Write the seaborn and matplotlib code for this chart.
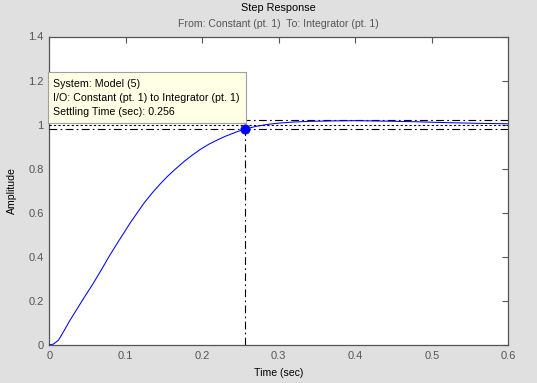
import matplotlib
matplotlib.use("Agg")
import pandas as pd
import seaborn as sns
import matplotlib.pyplot as plt
from matplotlib.patches import Rectangle

# step response
time_s = [0.0, 0.0056, 0.012, 0.0185, 0.027, 0.0356, 0.046, 0.057, 0.068, 0.0785,
          0.090, 0.105, 0.115, 0.124, 0.135, 0.145, 0.155, 0.166, 0.177, 0.187,
          0.198, 0.209, 0.220, 0.230, 0.244, 0.256, 0.270, 0.285, 0.300, 0.320,
          0.340, 0.370, 0.400, 0.440, 0.480, 0.520, 0.560, 0.600]
amplitude = [0.0, 0.0045, 0.022, 0.060, 0.112, 0.160, 0.218, 0.277, 0.341, 0.404,
             0.468, 0.550, 0.600, 0.645, 0.692, 0.731, 0.767, 0.802, 0.835, 0.862,
             0.889, 0.912, 0.931, 0.947, 0.966, 0.980, 0.992, 1.001, 1.007, 1.012,
             1.015, 1.017, 1.018, 1.016, 1.013, 1.009, 1.006, 1.004]

settling_time = 0.256
settling_value = 0.98
band = [0.98, 1.02]
final_value = 1.0

x_ticks = [0, 0.1, 0.2, 0.3, 0.4, 0.5, 0.6]
y_ticks = [0, 0.2, 0.4, 0.6, 0.8, 1, 1.2, 1.4]

tip_lines = ["System: Model (5)",
             "I/O: Constant (pt. 1) to Integrator (pt. 1)",
             "Settling Time (sec): 0.256"]

df = pd.DataFrame({"t": time_s, "y": amplitude})
marker_df = pd.DataFrame({"t": [settling_time], "y": [settling_value]})

sns.set_theme(style="white")
plt.rcParams["font.family"] = ["Liberation Sans", "DejaVu Sans"]
bg = "#e0e0e0"
gray = "#555555"

fig = plt.figure(figsize=(5.37, 3.83), dpi=100, facecolor=bg)
W, H = 537, 383
ax = fig.add_axes([49.3 / W, 1 - 345 / H, (508.3 - 49.3) / W, (345 - 36.5) / H])
ax.set_facecolor("white")

# settling band and steady state
dashdot = (0, (7, 3, 1.5, 3))
for b in band:
    ax.axhline(b, color="black", lw=0.8, ls=dashdot, zorder=3)
ax.axhline(final_value, color="black", lw=0.8, ls=(0, (2, 2)), zorder=3)
ax.plot([settling_time, settling_time], [0, settling_value], color="black",
        lw=0.8, ls=dashdot, zorder=3)

sns.lineplot(data=df, x="t", y="y", ax=ax, color="#0000ff", lw=0.75, zorder=4)
sns.scatterplot(data=marker_df, x="t", y="y", ax=ax, color="#0000ff", s=45,
                edgecolor="#0000ff", zorder=5)

ax.set_xlim(0, 0.6)
ax.set_ylim(0, 1.4)
ax.set_xticks(x_ticks)
ax.set_xticklabels([f"{v:g}" for v in x_ticks])
ax.set_yticks(y_ticks)
ax.set_yticklabels([f"{v:g}" for v in y_ticks])
ax.tick_params(direction="in", length=4, width=0.8, colors=gray, labelsize=8,
               top=True, right=True, pad=4)
for s in ax.spines.values():
    s.set_color(gray)
    s.set_linewidth(0.9)

ax.set_xlabel("Time (sec)", fontsize=7.6, color="black", labelpad=5)
ax.set_ylabel("Amplitude", fontsize=7.6, color="black", labelpad=8)

cx = (49.3 + 508.3) / 2 / W
fig.text(cx, 1 - 8 / H, "Step Response", ha="center", va="center", fontsize=7.8, color="black")
fig.text(cx, 1 - 24 / H, "From: Constant (pt. 1)  To: Integrator (pt. 1)",
         ha="center", va="center", fontsize=7.6, color=gray)

# data tip box
fig.patches.append(Rectangle((48 / W, 1 - 122.7 / H), 197.7 / W, 51 / H,
                             transform=fig.transFigure, facecolor="#ffffe6",
                             edgecolor="#a0a0a0", lw=0.8, zorder=2))
for i, line in enumerate(tip_lines):
    fig.text(52.7 / W, 1 - (83.8 + 14 * i) / H, line, ha="left", va="center",
             fontsize=7.7, color="black", zorder=3)

fig.savefig("out.png", dpi=100, facecolor=bg)
